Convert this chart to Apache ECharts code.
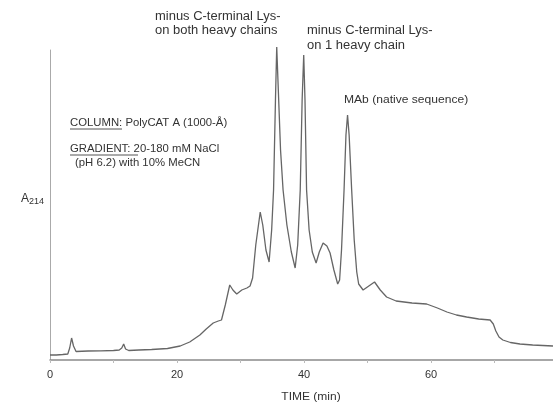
<!DOCTYPE html>
<html><head><meta charset="utf-8">
<script src="https://cdn.jsdelivr.net/npm/echarts@6/dist/echarts.min.js"></script>
<style>html,body{margin:0;padding:0;background:#fff}#c{width:553px;height:402px}</style>
</head><body><div id="c"></div>
<script>
// Retention time (min)
var time = [0,1,2,2.8,3.1,3.4,3.7,4.1,6,8,10,10.9,11.3,11.6,11.9,12.4,14,16,18.5,20.5,22,23.6,24.6,25.7,26.5,27.0,27.6,28.3,28.8,29.4,30.2,31.0,31.5,31.9,32.4,33.1,33.5,34.0,34.5,34.9,35.2,35.5,35.7,35.95,36.3,36.7,37.3,38.0,38.6,39.0,39.4,39.7,39.95,40.15,40.4,40.8,41.3,41.9,42.4,43.0,43.6,44.1,44.7,45.3,45.6,45.9,46.3,46.6,46.85,47.1,47.5,47.9,48.3,48.6,49.3,50.2,51.1,52.0,53.0,54.5,57,59.3,61,62.5,64,65.6,67.5,69.3,69.8,70.2,70.7,71.3,72.5,74,76,79.2];
// Absorbance at 214 nm (arbitrary units)
var absorbance = [5,5,5.5,6,12,22,14,8.5,9,9.2,9.5,10,12,16,11,9.5,10,10.5,11.5,14,18,25,31,37,39,40,55,75,70,66,70,72,74,82,115,148,135,110,98,130,170,260,313,270,210,170,135,108,92,115,170,260,305,260,170,130,108,97,108,117,114,107,90,76,80,110,170,225,245,225,170,120,88,76,70,74,78,70,63,59,57,56,52,48,45,43,41,40,36,29,23,20,17.5,16,15,14];
var xTickLabels = [0, 20, 40, 60];
var xMin = 0, xMax = 79.2, yMin = 0, yMax = 310;

var chart = echarts.init(document.getElementById('c'), null, {renderer: 'canvas'});
var data = time.map(function (t, i) { return [t, absorbance[i]]; });
var FF = '"Liberation Sans", Arial, sans-serif';
var TXT = '#333';

function label(x, y, text, size, sx) {
  return { type: 'text', x: x, y: y, scaleX: sx || 1, originX: 0,
    style: { text: text, fontSize: size, fontFamily: FF, fill: TXT, align: 'left', verticalAlign: 'middle' } };
}

chart.setOption({
  animation: false,
  backgroundColor: '#fff',
  grid: { left: 50, right: 0, top: 50, bottom: 42 },
  xAxis: {
    type: 'value', min: xMin, max: xMax, interval: 10,
    axisLine: { show: true, lineStyle: { color: '#8a8a8a', width: 1.5 } },
    axisTick: { show: true, length: 3, lineStyle: { color: '#bbb', width: 1 } },
    axisLabel: {
      margin: 9, fontSize: 11, fontFamily: FF, color: TXT, showMaxLabel: false,
      formatter: function (v) { return xTickLabels.indexOf(v) >= 0 ? String(v) : ''; }
    },
    splitLine: { show: false }
  },
  yAxis: {
    type: 'value', min: yMin, max: yMax,
    axisLine: { show: true, lineStyle: { color: '#aaa', width: 1 } },
    axisTick: { show: false }, axisLabel: { show: false }, splitLine: { show: false }
  },
  series: [{
    type: 'line', data: data, showSymbol: false, clip: false, smooth: false,
    lineStyle: { color: '#666', width: 1.3 }
  }],
  graphic: [
    label(155, 17, 'minus C-terminal Lys-', 12, 1.08),
    label(155, 31, 'on both heavy chains', 12, 1.08),
    label(307, 31, 'minus C-terminal Lys-', 12, 1.08),
    label(307, 46, 'on 1 heavy chain', 12, 1.08),
    label(344, 100, 'MAb (native sequence)', 11.5, 1.05),
    label(70, 123, 'COLUMN: PolyCAT A (1000-Å)', 11, 1.03),
    { type: 'line', shape: { x1: 70, y1: 129, x2: 122, y2: 129 }, style: { stroke: '#555', lineWidth: 1 } },
    label(70, 149, 'GRADIENT: 20-180 mM NaCl', 11, 1.03),
    { type: 'line', shape: { x1: 70, y1: 155, x2: 138, y2: 155 }, style: { stroke: '#555', lineWidth: 1 } },
    label(75, 163, '(pH 6.2) with 10% MeCN', 11, 1.03),
    { type: 'text', x: 21, y: 199, style: { text: '{a|A}{s|214}', fontFamily: FF, fill: TXT, verticalAlign: 'middle',
      rich: { a: { fontSize: 12, fontFamily: FF, fill: TXT }, s: { fontSize: 9, fontFamily: FF, fill: TXT, padding: [5, 0, 0, 0] } } } },
    { type: 'text', x: 311, y: 397, scaleX: 1.2, originX: 0,
      style: { text: 'TIME (min)', fontSize: 10, fontFamily: FF, fill: TXT, align: 'center', verticalAlign: 'middle' } }
  ]
});
</script></body></html>
